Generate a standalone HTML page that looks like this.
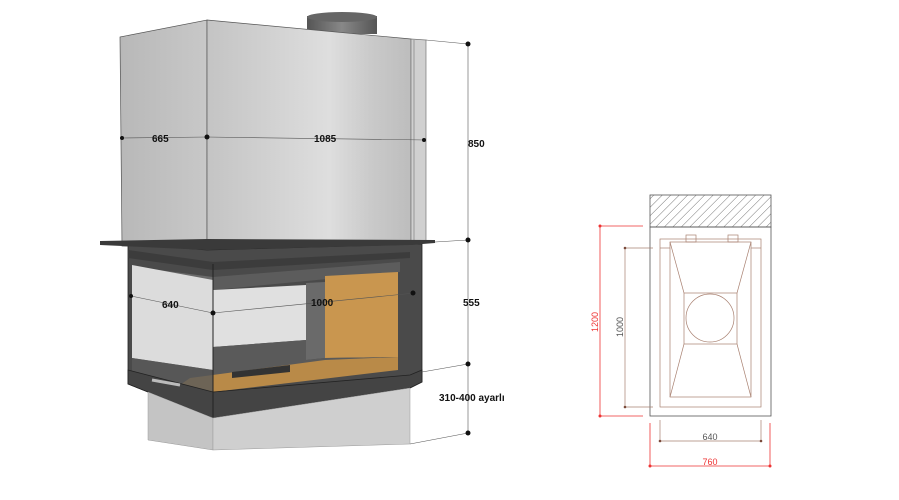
<!DOCTYPE html>
<html><head><meta charset="utf-8"><style>html,body{margin:0;padding:0;background:#fff;width:899px;height:500px;overflow:hidden}svg{display:block}text{font-family:"Liberation Sans",sans-serif}</style></head><body>
<svg width="899" height="500" viewBox="0 0 899 500" xmlns="http://www.w3.org/2000/svg">
<defs>
<linearGradient id="hf" x1="0" x2="1" y1="0" y2="0"><stop offset="0" stop-color="#c4c4c4"/><stop offset="0.6" stop-color="#dedede"/><stop offset="0.8" stop-color="#cacaca"/><stop offset="1" stop-color="#bdbdbd"/></linearGradient>
<linearGradient id="hl" x1="0" x2="1"><stop offset="0" stop-color="#b8b8b8"/><stop offset="1" stop-color="#c8c8c8"/></linearGradient>
<linearGradient id="ch" x1="0" x2="1"><stop offset="0" stop-color="#555"/><stop offset="0.5" stop-color="#888"/><stop offset="1" stop-color="#555"/></linearGradient>
<pattern id="hat" width="6" height="6" patternUnits="userSpaceOnUse" patternTransform="rotate(45)"><line x1="0" y1="0" x2="0" y2="6" stroke="#555" stroke-width="0.8"/></pattern>
</defs>
<rect x="307" y="16" width="70" height="18" fill="url(#ch)"/>
<ellipse cx="342" cy="17" rx="35" ry="5" fill="#666"/>
<polygon points="120,37 207,20 207,248 122,246" fill="url(#hl)" stroke="#555" stroke-width="0.7"/>
<polygon points="207,20 411,39 411,243 207,248" fill="url(#hf)" stroke="#555" stroke-width="0.7"/>
<polygon points="411,39 426,40 426,243 411,243" fill="#d0d0d0" stroke="#777" stroke-width="0.7"/>
<line x1="414" y1="40" x2="414" y2="243" stroke="#999"/>
<!-- firebox -->
<polygon points="128,244 207,250 422,244 422,382 410,388 213,418 128,384" fill="#4a4a4a" stroke="#222" stroke-width="0.8"/>
<polygon points="128,250 213,262 410,252 410,258 213,270 128,258" fill="#3c3c3c"/>
<polygon points="143,268 213,277 213,290 143,283" fill="#6a6a6a"/>
<polygon points="213,277 400,262 400,272 213,290" fill="#5c5c5c"/>
<polygon points="132,265 213,280 213,370 132,358" fill="#dcdcdc"/>
<polygon points="213,290 306,285 306,340 213,347" fill="#e0e0e0"/>
<polygon points="306,283 325,282 325,358 306,360" fill="#6a6a6a"/>
<polygon points="325,276 398,272 398,357 325,358" fill="#c9964f"/>
<polygon points="213,347 306,340 306,360 325,358 398,357 398,370 213,382" fill="#5a5a5a"/>
<polygon points="190,378 325,360 398,357 398,370 213,392 180,385" fill="#b98a48"/>
<polygon points="232,372 290,365 290,372 232,378" fill="#333"/>
<polygon points="132,358 213,370 213,392 132,380" fill="#5a5a5a" opacity="0.8"/>
<polygon points="128,370 213,392 410,375 422,370 422,382 410,388 213,418 128,384" fill="#444" stroke="#222" stroke-width="0.8"/>
<line x1="213" y1="264" x2="213" y2="418" stroke="#222"/>
<line x1="152" y1="380" x2="180" y2="385" stroke="#bbb" stroke-width="3"/>
<polygon points="100,241 207,239 435,240 435,243 410,245 207,250 100,245" fill="#3a3a3a"/>
<!-- base -->
<polygon points="148,392 213,418 213,450 148,440" fill="#c4c4c4" stroke="#999" stroke-width="0.5"/>
<polygon points="213,418 410,388 410,444 213,450" fill="#cfcfcf" stroke="#999" stroke-width="0.5"/>
<g stroke="#555" stroke-width="0.6" fill="none">
<line x1="122" y1="138" x2="207" y2="137"/><line x1="207" y1="137" x2="426" y2="140"/>
<line x1="131" y1="296" x2="213" y2="313"/><line x1="213" y1="313" x2="415" y2="293"/>
<line x1="468" y1="44" x2="468" y2="435"/>
<line x1="426" y1="40" x2="468" y2="44"/><line x1="435" y1="242" x2="468" y2="240"/>
<line x1="422" y1="372" x2="468" y2="364"/><line x1="410" y1="444" x2="468" y2="433"/>
</g>
<g fill="#111"><circle cx="207" cy="137" r="2.5"/><circle cx="122" cy="138" r="2"/><circle cx="424" cy="140" r="2"/>
<circle cx="213" cy="313" r="2.5"/><circle cx="413" cy="293" r="2.5"/><circle cx="131" cy="296" r="2"/>
<circle cx="468" cy="44" r="2.5"/><circle cx="468" cy="240" r="2.5"/><circle cx="468" cy="364" r="2.5"/><circle cx="468" cy="433" r="2.5"/></g>
<g font-size="10" font-weight="bold" fill="#111">
<text x="152" y="142">665</text><text x="314" y="142">1085</text>
<text x="162" y="308">640</text><text x="311" y="306">1000</text>
<text x="468" y="147">850</text><text x="463" y="306">555</text><text x="439" y="401">310-400 ayarlı</text>
</g>
<rect x="650" y="195" width="121" height="32" fill="url(#hat)" stroke="#555" stroke-width="0.8"/>
<rect x="650" y="227" width="121" height="189" fill="none" stroke="#555" stroke-width="0.8"/>
<g stroke="#a88070" stroke-width="0.7" fill="none">
<rect x="660" y="239" width="101" height="168"/>
<rect x="670" y="242" width="81" height="155"/>
<line x1="660" y1="248" x2="670" y2="248"/><line x1="751" y1="248" x2="761" y2="248"/>
<rect x="686" y="235" width="10" height="7"/><rect x="728" y="235" width="10" height="7"/>
<rect x="684" y="293" width="53" height="51"/>
<circle cx="710" cy="318" r="24"/>
<line x1="670" y1="242" x2="684" y2="293"/><line x1="751" y1="242" x2="737" y2="293"/>
<line x1="670" y1="397" x2="684" y2="344"/><line x1="751" y1="397" x2="737" y2="344"/>
<line x1="625" y1="248" x2="625" y2="407"/><line x1="625" y1="248" x2="653" y2="248"/><line x1="625" y1="407" x2="653" y2="407"/>
<line x1="660" y1="441" x2="761" y2="441"/><line x1="660" y1="420" x2="660" y2="441"/><line x1="761" y1="420" x2="761" y2="441"/>
</g>
<g stroke="#e33" stroke-width="0.8" fill="none">
<line x1="600" y1="226" x2="600" y2="416"/><line x1="600" y1="226" x2="643" y2="226"/><line x1="600" y1="416" x2="643" y2="416"/>
<line x1="650" y1="466" x2="771" y2="466"/><line x1="650" y1="423" x2="650" y2="466"/><line x1="770" y1="423" x2="770" y2="466"/>
</g>
<g fill="#e33"><circle cx="600" cy="226" r="1.5"/><circle cx="600" cy="416" r="1.5"/><circle cx="650" cy="466" r="1.5"/><circle cx="770" cy="466" r="1.5"/></g>
<g fill="#7a4a3a"><circle cx="625" cy="248" r="1.3"/><circle cx="625" cy="407" r="1.3"/><circle cx="660" cy="441" r="1.3"/><circle cx="761" cy="441" r="1.3"/></g>
<text x="710" y="440" font-size="9" fill="#555" text-anchor="middle">640</text>
<text x="710" y="465" font-size="9" fill="#e33" text-anchor="middle">760</text>
<text transform="translate(598,322) rotate(-90)" font-size="9" fill="#e33" text-anchor="middle">1200</text>
<text transform="translate(623,327) rotate(-90)" font-size="9" fill="#555" text-anchor="middle">1000</text>
</svg>
</body></html>
